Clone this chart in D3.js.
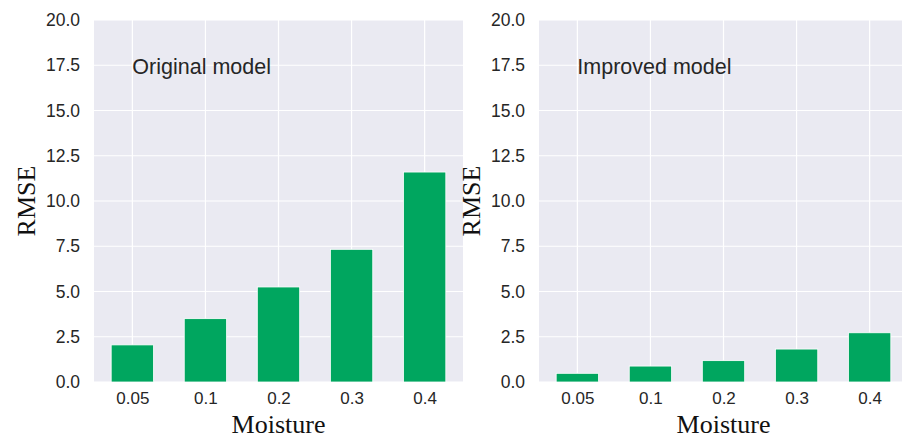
<!DOCTYPE html>
<html>
<head>
<meta charset="utf-8">
<script src="https://cdn.jsdelivr.net/npm/d3@7"></script>
<style>
  body { margin: 0; background: #fff; }
</style>
</head>
<body>
<script>
// data
var moisture = ['0.05', '0.1', '0.2', '0.3', '0.4']
var originalRmse = [2.05, 3.5, 5.25, 7.33, 11.6]
var improvedRmse = [0.48, 0.88, 1.18, 1.82, 2.72]
var yTicks = [0, 2.5, 5, 7.5, 10, 12.5, 15, 17.5, 20]
var panelTitles = ['Original model', 'Improved model']

var bgColor = '#EAEAF2'
var barColor = '#00A65F'
var textColor = '#262626'

const svg = d3.select('body').append('svg')
    .attr('width', 902)
    .attr('height', 439)

// note: "top" is taken by window.top, so plotTop
var plotTop = 20, plotBottom = 382, plotW = 369

function panel(x0, values, title) {
    var g = svg.append('g').attr('transform', 'translate(' + x0 + ',0)')

    var x = d3.scalePoint().domain(moisture).range([0, plotW]).padding(0.525)
    var y = d3.scaleLinear().domain([0, 20]).range([plotBottom, plotTop])
    var barW = x.step() * 0.58

    g.append('rect')
        .attr('x', 0)
        .attr('y', plotTop)
        .attr('width', plotW)
        .attr('height', plotBottom - plotTop)
        .attr('fill', bgColor)

    // grid
    g.selectAll('.hgrid').data(yTicks).enter().append('line')
        .attr('x1', 0).attr('x2', plotW)
        .attr('y1', d => y(d)).attr('y2', d => y(d))
        .attr('stroke', '#fff').attr('stroke-width', 1.2)
    g.selectAll('.vgrid').data(moisture).enter().append('line')
        .attr('x1', d => x(d)).attr('x2', d => x(d))
        .attr('y1', plotTop).attr('y2', plotBottom)
        .attr('stroke', '#fff').attr('stroke-width', 1.2)

    // bars
    g.selectAll('.bar').data(values).enter().append('rect')
        .attr('x', (d, i) => x(moisture[i]) - barW / 2)
        .attr('y', d => y(d))
        .attr('width', barW)
        .attr('height', d => y(0) - y(d))
        .attr('fill', barColor)
        .attr('stroke', '#fff')
        .attr('stroke-width', 0.8)

    // axes (tick labels only)
    var yAxis = g.append('g').call(d3.axisLeft(y).tickValues(yTicks).tickFormat(d3.format('.1f')).tickSize(0).tickPadding(14))
    yAxis.select('.domain').remove()
    yAxis.selectAll('text')
        .attr('fill', textColor)
        .style('font-family', 'Liberation Sans, Arial, sans-serif')
        .style('font-size', '17.5px')

    var xAxis = g.append('g').attr('transform', 'translate(0,' + plotBottom + ')')
        .call(d3.axisBottom(x).tickSize(0).tickPadding(10))
    xAxis.select('.domain').remove()
    xAxis.selectAll('text')
        .attr('fill', textColor)
        .style('font-family', 'Liberation Sans, Arial, sans-serif')
        .style('font-size', '17px')

    g.append('text')
        .attr('x', x(moisture[0]))
        .attr('y', 74)
        .attr('fill', textColor)
        .style('font-family', 'Liberation Sans, Arial, sans-serif')
        .style('font-size', '21.5px')
        .text(title)

    g.append('text')
        .attr('transform', 'translate(' + (-59) + ',' + ((plotTop + plotBottom) / 2) + ') rotate(-90)')
        .attr('text-anchor', 'middle')
        .attr('fill', '#111')
        .style('font-family', 'Liberation Serif, Times New Roman, serif')
        .style('font-size', '26px')
        .text('RMSE')

    g.append('text')
        .attr('x', plotW / 2)
        .attr('y', 433)
        .attr('text-anchor', 'middle')
        .attr('fill', '#111')
        .style('font-family', 'Liberation Serif, Times New Roman, serif')
        .style('font-size', '26px')
        .text('Moisture')
}

panel(94, originalRmse, panelTitles[0])
panel(539, improvedRmse, panelTitles[1])
</script>
</body>
</html>
